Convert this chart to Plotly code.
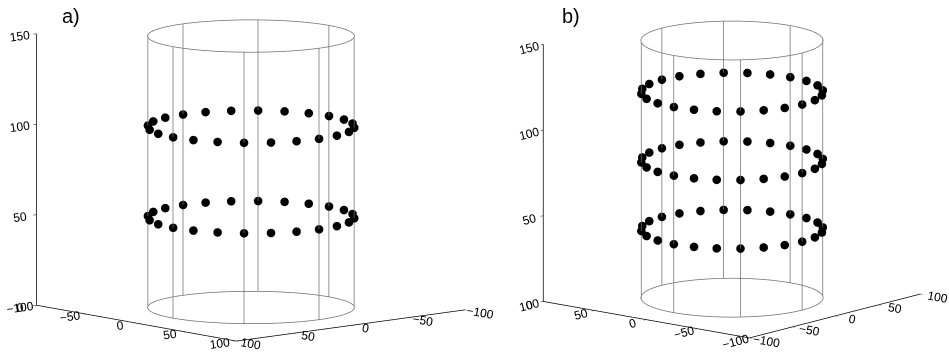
import numpy as np
import plotly.graph_objects as go

# ---- data ----
cylinder_radius = 68
cylinder_height = 150
ring_heights_a = [50, 100]
ring_heights_b = [40, 80, 120]
point_angles_deg = [0, 15, 30, 45, 60, 75, 90, 105, 120, 135, 150, 165,
                    180, 195, 210, 225, 240, 255, 270, 285, 300, 315, 330, 345]
generatrix_angles_deg = [0, 45, 90, 135, 180, 225, 270, 315]
xy_ticks = [-100, -50, 0, 50, 100]
z_ticks = [0, 50, 100, 150]
panel_labels = ["a)", "b)"]

LINE_GREY = "#707070"


def cylinder_traces(scene):
    traces = []
    t = np.linspace(0, 2 * np.pi, 181)
    for zc in (0, cylinder_height):
        traces.append(go.Scatter3d(
            x=cylinder_radius * np.cos(t), y=cylinder_radius * np.sin(t),
            z=np.full_like(t, zc), mode="lines",
            line=dict(color=LINE_GREY, width=1.5), scene=scene,
            showlegend=False, hoverinfo="skip"))
    for a in generatrix_angles_deg:
        r = np.deg2rad(a)
        traces.append(go.Scatter3d(
            x=[cylinder_radius * np.cos(r)] * 2, y=[cylinder_radius * np.sin(r)] * 2,
            z=[0, cylinder_height], mode="lines",
            line=dict(color=LINE_GREY, width=1.5), scene=scene,
            showlegend=False, hoverinfo="skip"))
    return traces


def ring_trace(heights, scene):
    ang = np.deg2rad(point_angles_deg)
    xs, ys, zs = [], [], []
    for h in heights:
        xs += list(cylinder_radius * np.cos(ang))
        ys += list(cylinder_radius * np.sin(ang))
        zs += [h] * len(ang)
    return go.Scatter3d(x=xs, y=ys, z=zs, mode="markers",
                        marker=dict(size=5, color="black", line=dict(width=0)),
                        scene=scene, showlegend=False, hoverinfo="skip")


fig = go.Figure()
for tr in cylinder_traces("scene"):
    fig.add_trace(tr)
fig.add_trace(ring_trace(ring_heights_a, "scene"))
for tr in cylinder_traces("scene2"):
    fig.add_trace(tr)
fig.add_trace(ring_trace(ring_heights_b, "scene2"))

font = dict(family="Liberation Sans, Arial, sans-serif", size=12, color="black")


def axis(vals, rng):
    return dict(title=dict(text=""), tickvals=vals, showgrid=False, zeroline=False,
                showbackground=False, showline=True, linecolor="black", linewidth=1.5,
                ticks="outside", ticklen=4, tickcolor="black", tickfont=font,
                showspikes=False, autorange=False, range=rng)


def scene_layout(domx, domy, eye, center, s, aspz):
    return dict(domain=dict(x=domx, y=domy),
                xaxis=axis(xy_ticks, [-100, 100]),
                yaxis=axis(xy_ticks, [100, -100]),
                zaxis=axis(z_ticks, [0, 150]),
                aspectmode="manual", aspectratio=dict(x=s, y=s, z=s * aspz),
                camera=dict(eye=eye, up=dict(x=0, y=0, z=1), center=center,
                            projection=dict(type="orthographic")),
                bgcolor="white")


def camera_pair(phi_deg, el_deg, dist, shift):
    phi = np.deg2rad(phi_deg)
    center = dict(x=shift[0], y=shift[1], z=shift[2])
    eye = dict(x=dist * np.cos(phi) + shift[0], y=dist * np.sin(phi) + shift[1],
               z=dist * np.tan(np.deg2rad(el_deg)) + shift[2])
    return eye, center


eye_a, center_a = camera_pair(-41.1, 9.0, 1.6, (0, 0, -0.049))
eye_b, center_b = camera_pair(129.7, 12.3, 1.6, (0.0255, 0.0212, -0.0646))

fig.update_layout(
    width=949, height=361, margin=dict(l=0, r=0, t=0, b=0),
    paper_bgcolor="white",
    scene=scene_layout([0.0, 0.529], [0.0, 1.0], eye_a, center_a, 1.685, 0.9036),
    scene2=scene_layout([0.53, 1.0], [0.0, 1.0], eye_b, center_b, 1.485, 0.982),
    annotations=[
        dict(text=panel_labels[0], x=60 / 949, y=1 - 16 / 361, xref="paper", yref="paper",
             xanchor="left", yanchor="middle", showarrow=False,
             font=dict(family="Liberation Sans, Arial, sans-serif", size=20, color="black")),
        dict(text=panel_labels[1], x=560 / 949, y=1 - 16 / 361, xref="paper", yref="paper",
             xanchor="left", yanchor="middle", showarrow=False,
             font=dict(family="Liberation Sans, Arial, sans-serif", size=20, color="black")),
    ],
)

fig.write_html("out.html", config={"displayModeBar": False})
